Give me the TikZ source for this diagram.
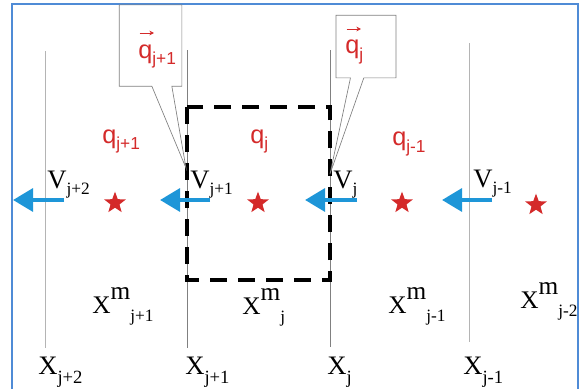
\documentclass[tikz,border=0pt]{standalone}
\usepackage{fontspec}
\setmainfont{Liberation Serif}
\newfontfamily\qfont{Liberation Sans}
\definecolor{FVred}{HTML}{D42A2A}
\definecolor{FVblue}{HTML}{1E96D8}
\definecolor{FVframe}{HTML}{4F8BD6}
\definecolor{FVgray}{HTML}{B4B4B4}
\usetikzlibrary{arrows.meta, shapes.geometric, shapes.callouts}
% subscripts and superscripts as the drawing sets them
\newcommand{\lowsub}[2]{\raisebox{-#1}{\fontsize{13}{13}\selectfont #2}}
\newcommand{\cellx}[1]{\fontsize{19}{19}\selectfont X\raisebox{10pt}{m}\lowsub{6pt}{#1}}
\newcommand{\facex}[1]{\fontsize{20}{20}\selectfont X\lowsub{7pt}{\fontsize{14}{14}\selectfont #1}}
\newcommand{\speed}[1]{\fontsize{20}{20}\selectfont V\lowsub{4.5pt}{#1}}
\newcommand{\flux}[1]{\qfont\fontsize{19}{19}\selectfont q\lowsub{5pt}{\qfont #1}}
\begin{document}
\begin{tikzpicture}[x=0.75pt, y=-0.75pt,
      lbl/.style={inner sep=0pt, anchor=base west},
      velo/.style={-{Triangle[length=15pt, width=17pt]}, FVblue, line width=3.2pt},
      src/.style={star, star points=5, star point ratio=2.4, fill=FVred, draw=none,
         minimum size=17pt, inner sep=0pt},
      bubble/.style={rectangle callout, draw=gray, line width=0.5pt, inner sep=0pt},
      vecarr/.style={FVred, line width=0.7pt, -{Stealth[length=3.5pt, width=3.5pt]}}]
   \useasboundingbox (0,0) rectangle (587,389);
   % Frame
   \draw[FVframe, line width=1.5pt] (12,389) -- (12,4) -- (578,4) -- (578,389);
   % Cell faces
   \draw[FVgray, line width=0.6pt] (45,51) -- (45,348);
   \draw[gray, line width=0.5pt] (187,50) -- (187,348);
   \draw[gray, line width=0.5pt] (330,50) -- (330,347);
   \draw[FVgray, line width=0.6pt] (469,43) -- (469,342);
   % Control volume (dashed)
   \draw[black, line width=2.8pt, dash pattern=on 13pt off 8pt] (187,107) rectangle (330,280);
   % Callouts for the face fluxes
   \coordinate (tipA) at (186,168);
   \coordinate (tipB) at (330,174);
   \node[bubble, minimum width=47pt, minimum height=61pt, callout pointer width=15pt,
      callout absolute pointer={(tipA)}] (boxA) at (150.5,45.5) {};
   \node[bubble, minimum width=45pt, minimum height=47pt, callout pointer width=10pt,
      callout absolute pointer={(tipB)}] (boxB) at (366,46.5) {};
   \node[lbl, FVred] (fA) at (138,58) {\flux{j+1}};
   \node[lbl, FVred] (fB) at (345,54) {\flux{j}};
   \draw[vecarr] (139.5,33) -- (154,33);
   \draw[vecarr] (346.5,29) -- (361,29);
   % Cell fluxes
   \node[lbl, FVred] (qA) at (102,143) {\flux{j+1}};
   \node[lbl, FVred] (qB) at (250,143) {\flux{j}};
   \node[lbl, FVred] (qC) at (392,146) {\flux{j-1}};
   % Velocities
   \node[lbl] (vA) at (47,188) {\speed{j+2}};
   \node[lbl] (vB) at (190,188) {\speed{j+1}};
   \node[lbl] (vC) at (333,188) {\speed{j}};
   \node[lbl] (vD) at (473,187) {\speed{j-1}};
   \coordinate (aA) at (64,200);  \coordinate (bA) at (13,200);
   \coordinate (aB) at (210,200); \coordinate (bB) at (160,200);
   \coordinate (aC) at (357,200); \coordinate (bC) at (305,200);
   \coordinate (aD) at (492,200); \coordinate (bD) at (442,200);
   \draw[velo] (aA) -- (bA);
   \draw[velo] (aB) -- (bB);
   \draw[velo] (aC) -- (bC);
   \draw[velo] (aD) -- (bD);
   % Cell centres
   \node[src] (sA) at (115,203) {};
   \node[src] (sB) at (258,203) {};
   \node[src] (sC) at (402,203) {};
   \node[src] (sD) at (536,205) {};
   % Cell positions
   \node[lbl] (mA) at (92,313) {\cellx{j+1}};
   \node[lbl] (mB) at (242,314) {\cellx{j}};
   \node[lbl] (mC) at (388,313) {\cellx{j-1}};
   \node[lbl] (mD) at (520,308) {\cellx{j-2}};
   % Face positions
   \node[lbl] (xA) at (38,374) {\facex{j+2}};
   \node[lbl] (xB) at (185,374) {\facex{j+1}};
   \node[lbl] (xC) at (327,374) {\facex{j}};
   \node[lbl] (xD) at (463,374) {\facex{j-1}};
\end{tikzpicture}
\end{document}
